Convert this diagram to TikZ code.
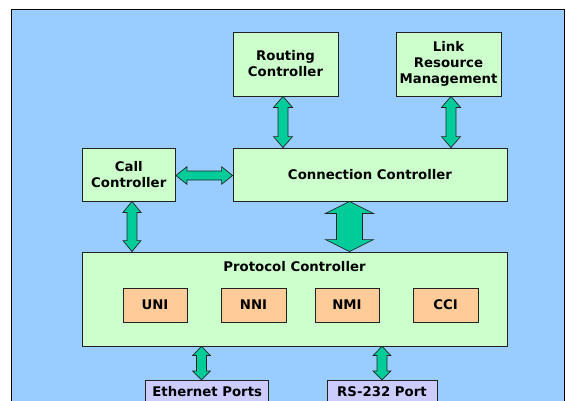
\documentclass[tikz,border=0pt]{standalone}
\usepackage{fontspec}
\setmainfont{DejaVu Sans}
\usetikzlibrary{calc}
\definecolor{bgblue}{HTML}{99CCFF}
\definecolor{boxgreen}{HTML}{CCFFCC}
\definecolor{boxorange}{HTML}{FFCC99}
\definecolor{boxlav}{HTML}{CCCCFF}
\definecolor{arrowfill}{HTML}{00CC99}
\definecolor{edge}{HTML}{222222}
\newcommand\lbl{\fontsize{13.3}{16}\selectfont\bfseries}
\tikzset{
  bgframe/.style={draw=black, line width=1pt, fill=bgblue},
  gbox/.style={draw=edge, line width=0.8pt, fill=boxgreen, inner sep=0pt, align=center, font=\lbl},
  obox/.style={draw=edge, line width=0.8pt, fill=boxorange, inner sep=0pt, align=center, font=\lbl},
  pbox/.style={draw=edge, line width=0.8pt, fill=boxlav, inner sep=0pt, align=center, font=\lbl},
  txt/.style={inner sep=0pt, align=center, font=\lbl},
  dblarrow/.style={draw=edge, line width=0.7pt, fill=arrowfill, line join=miter}
}
% vertical double arrow: top node, bottom node, x (px), shaft half, head half, head length
\newcommand\vdarrow[6]{%
  \draw[dblarrow] let \p1=(#1.south), \p2=(#2.north) in
    (#3pt,\y1) -- ({#3pt+#5pt},{\y1-#6pt}) -- ({#3pt+#4pt},{\y1-#6pt})
    -- ({#3pt+#4pt},{\y2+#6pt}) -- ({#3pt+#5pt},{\y2+#6pt}) -- (#3pt,\y2)
    -- ({#3pt-#5pt},{\y2+#6pt}) -- ({#3pt-#4pt},{\y2+#6pt})
    -- ({#3pt-#4pt},{\y1-#6pt}) -- ({#3pt-#5pt},{\y1-#6pt}) -- cycle;}
% horizontal double arrow: left node, right node, y (px), shaft half, head half, head length
\newcommand\hdarrow[6]{%
  \draw[dblarrow] let \p1=(#1.east), \p2=(#2.west) in
    (\x1,-#3pt) -- ({\x1+#6pt},{-#3pt+#5pt}) -- ({\x1+#6pt},{-#3pt+#4pt})
    -- ({\x2-#6pt},{-#3pt+#4pt}) -- ({\x2-#6pt},{-#3pt+#5pt}) -- (\x2,-#3pt)
    -- ({\x2-#6pt},{-#3pt-#5pt}) -- ({\x2-#6pt},{-#3pt-#4pt})
    -- ({\x1+#6pt},{-#3pt-#4pt}) -- ({\x1+#6pt},{-#3pt-#5pt}) -- cycle;}
\begin{document}
\begin{tikzpicture}[x=1pt,y=-1pt]
\clip (0,0) rectangle (566,400);
\fill[white] (0,0) rectangle (566,400);
\draw[bgframe] (11.5,9.5) rectangle (564.5,420);

\node[gbox, minimum width=105pt, minimum height=64pt] (rc) at (285.5,64) {Routing\\Controller};
\node[gbox, minimum width=105pt, minimum height=64pt] (lrm) at (448.5,64) {Link\\Resource\\Management};
\node[gbox, minimum width=93.5pt, minimum height=53pt] (call) at (128.75,174.5) {Call\\Controller};
\node[gbox, minimum width=274pt, minimum height=53pt] (cc) at (370,174.5) {Connection Controller};
\node[gbox, minimum width=425pt, minimum height=94pt] (pc) at (294.5,299) {};
\node[txt] (pclabel) at (294.5,267) {Protocol Controller};
\node[obox, minimum width=64pt, minimum height=34pt] (uni) at (155,305) {UNI};
\node[obox, minimum width=65pt, minimum height=34pt] (nni) at (253.5,305) {NNI};
\node[obox, minimum width=64pt, minimum height=34pt] (nmi) at (347,305) {NMI};
\node[obox, minimum width=65pt, minimum height=34pt] (cci) at (445.5,305) {CCI};
\node[pbox, minimum width=123pt, minimum height=40pt, anchor=north] (eth) at (207.2,380) {};
\node[txt] (ethlabel) at (207.2,392) {Ethernet Ports};
\node[pbox, minimum width=110pt, minimum height=40pt, anchor=north] (rs) at (382,380) {};
\node[txt] (rslabel) at (382,392) {RS-232 Port};

\vdarrow{rc}{cc}{283}{5}{9.5}{11}
\vdarrow{lrm}{cc}{451}{5}{9.5}{11}
\hdarrow{call}{cc}{175.5}{4.5}{8.8}{11}
\vdarrow{call}{pc}{132}{5}{9}{11}
\vdarrow{cc}{pc}{349.5}{13}{24}{12}
\vdarrow{pc}{eth}{201.5}{5}{8.8}{9}
\vdarrow{pc}{rs}{382}{5}{8.8}{9}
\end{tikzpicture}
\end{document}
